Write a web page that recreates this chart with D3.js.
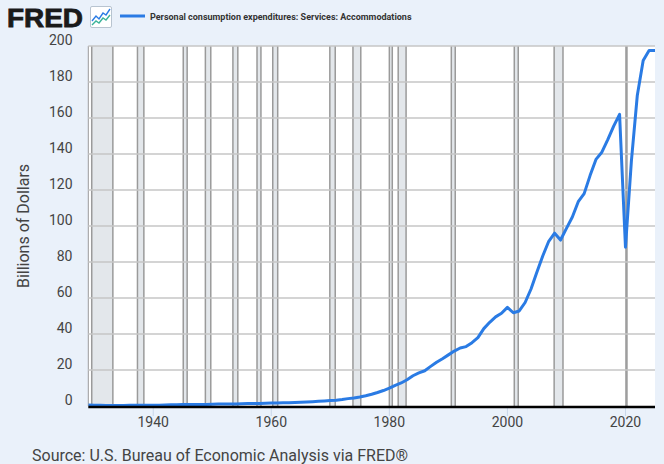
<!DOCTYPE html>
<html>
<head>
<meta charset="utf-8">
<script src="https://cdn.jsdelivr.net/npm/d3@7"></script>
<style>
  html, body { margin: 0; padding: 0; background: #eaf1fa; }
  svg { display: block; font-family: Roboto, "Noto Sans", sans-serif; }
</style>
</head>
<body>
<svg id="chart" width="664" height="464"></svg>
<script>
// ---- data ----
const years = d3.range(1929, 2026);
const values = [
  // 1929-1939
  0.50, 0.45, 0.38, 0.28, 0.26, 0.29, 0.31, 0.35, 0.38, 0.36, 0.38,
  // 1940-1949
  0.41, 0.47, 0.56, 0.65, 0.72, 0.78, 0.84, 0.86, 0.90, 0.90,
  // 1950-1959
  0.95, 1.05, 1.10, 1.15, 1.15, 1.25, 1.35, 1.40, 1.42, 1.52,
  // 1960-1969
  1.60, 1.65, 1.75, 1.85, 1.95, 2.10, 2.25, 2.40, 2.60, 2.80,
  // 1970-1979
  3.00, 3.20, 3.60, 4.10, 4.50, 5.00, 5.70, 6.50, 7.50, 8.60,
  // 1980-1989
  9.9, 11.5, 12.8, 14.6, 16.8, 18.4, 19.6, 22.0, 24.3, 26.3,
  // 1990-1999
  28.4, 30.5, 32.2, 33.0, 35.2, 38.0, 43.0, 46.5, 49.5, 51.5,
  // 2000-2009
  54.8, 51.8, 52.8, 57.5, 65.0, 74.5, 83.5, 91.5, 96.0, 92.2,
  // 2010-2019
  98.7, 105.0, 113.5, 118.0, 128.0, 137.0, 141.0, 148.0, 155.5, 162.0,
  // 2020-2025
  88.2, 136.0, 172.5, 192.0, 197.5, 197.5
];
const recessionStarts = ["1929-08","1937-05","1945-02","1948-11","1953-07","1957-08","1960-04","1969-12","1973-11","1980-01","1981-07","1990-07","2001-03","2007-12","2020-02"];
const recessionEnds   = ["1933-03","1938-06","1945-10","1949-10","1954-05","1958-04","1961-02","1970-11","1975-03","1980-07","1982-11","1991-03","2001-11","2009-06","2020-04"];
const xTickYears = [1940, 1960, 1980, 2000, 2020];
const yTicks = [0, 20, 40, 60, 80, 100, 120, 140, 160, 180, 200];
const seriesTitle = "Personal consumption expenditures: Services: Accommodations";
const yAxisTitle = "Billions of Dollars";
const sourceText = "Source: U.S. Bureau of Economic Analysis via FRED®";

// ---- layout ----
const svg = d3.select("#chart");
const plot = { left: 88.3, right: 655, top: 46, bottom: 406 };
const parseMonth = d3.timeParse("%Y-%m");

const x = d3.scaleTime()
  .domain([new Date(1929, 0, 1), new Date(2025, 0, 1)])
  .range([plot.left, plot.right]);
const y = d3.scaleLinear().domain([0, 200]).range([plot.bottom, plot.top]);

const data = years.map((yr, i) => ({ date: new Date(yr, 0, 1), v: values[i] }));

// plot background
svg.append("rect")
  .attr("x", plot.left).attr("y", plot.top)
  .attr("width", plot.right - plot.left).attr("height", plot.bottom - plot.top)
  .attr("fill", "#ffffff");

svg.append("clipPath").attr("id", "clip").append("rect")
  .attr("x", plot.left).attr("y", plot.top - 3)
  .attr("width", plot.right - plot.left).attr("height", plot.bottom - plot.top + 3);

// recessions
const rec = svg.append("g").attr("clip-path", "url(#clip)");
recessionStarts.forEach((s, i) => {
  const x0 = Math.max(plot.left, x(parseMonth(s)));
  const x1 = x(parseMonth(recessionEnds[i]));
  rec.append("rect")
    .attr("x", x0).attr("y", plot.top)
    .attr("width", Math.max(0, x1 - x0)).attr("height", plot.bottom - plot.top)
    .attr("fill", "#e3e7eb");
  [x0, x1].forEach(xx => rec.append("line")
    .attr("x1", xx).attr("x2", xx).attr("y1", plot.top).attr("y2", plot.bottom)
    .attr("stroke", "#9a9a9a").attr("stroke-width", 1.5));
});
// left plot edge
svg.append("line")
  .attr("x1", plot.left).attr("x2", plot.left).attr("y1", plot.top).attr("y2", plot.bottom)
  .attr("stroke", "#9a9a9a").attr("stroke-width", 1);

// horizontal gridlines
svg.append("g").selectAll("line").data(yTicks.filter(t => t > 0)).join("line")
  .attr("x1", plot.left).attr("x2", plot.right)
  .attr("y1", d => y(d)).attr("y2", d => y(d))
  .attr("stroke", "#c6c6c6").attr("stroke-width", 1.5);

// y labels
svg.append("g").selectAll("text").data(yTicks).join("text")
  .attr("x", 72.5).attr("y", d => y(d) - 1.5)
  .attr("text-anchor", "end")
  .attr("font-size", 14).attr("fill", "#444")
  .text(d => d);

// x ticks
svg.append("g").selectAll("line").data(xTickYears).join("line")
  .attr("x1", d => x(new Date(d, 0, 1))).attr("x2", d => x(new Date(d, 0, 1)))
  .attr("y1", plot.bottom).attr("y2", plot.bottom + 10)
  .attr("stroke", "#c8d6e8").attr("stroke-width", 1);
svg.append("g").selectAll("text").data(xTickYears).join("text")
  .attr("x", d => x(new Date(d, 0, 1))).attr("y", 427)
  .attr("text-anchor", "middle")
  .attr("font-size", 14).attr("fill", "#444")
  .text(d => d);

// series line
svg.append("path")
  .datum(data)
  .attr("clip-path", "url(#clip)")
  .attr("fill", "none")
  .attr("stroke", "#2a7be4")
  .attr("stroke-width", 3)
  .attr("stroke-linejoin", "round")
  .attr("d", d3.line().x(d => x(d.date)).y(d => y(d.v)));

// x axis line
svg.append("line")
  .attr("x1", plot.left).attr("x2", plot.right)
  .attr("y1", plot.bottom + 1).attr("y2", plot.bottom + 1)
  .attr("stroke", "#000").attr("stroke-width", 2.5);

// y axis title
svg.append("text")
  .attr("transform", `translate(29, ${(plot.top + plot.bottom) / 2}) rotate(-90)`)
  .attr("text-anchor", "middle")
  .attr("font-size", 16).attr("fill", "#444")
  .text(yAxisTitle);

// FRED logo
svg.append("text")
  .attr("x", 7).attr("y", 27)
  .attr("font-family", "'Liberation Sans', Arial, sans-serif")
  .attr("font-weight", 900).attr("font-size", 25)
  .attr("textLength", 76).attr("lengthAdjust", "spacingAndGlyphs")
  .attr("fill", "#1a1a1a")
  .attr("stroke", "#1a1a1a").attr("stroke-width", 0.8)
  .text("FRED");
const icon = svg.append("g").attr("transform", "translate(90,6)");
icon.append("rect").attr("x", 0.5).attr("y", 0.5).attr("width", 21).attr("height", 21)
  .attr("rx", 1.5).attr("fill", "#ffffff").attr("stroke", "#b8c4d0");
icon.append("path").attr("d", "M2,15 L6,10 L9,13 L13,7 L16,9 L20,3")
  .attr("fill", "none").attr("stroke", "#2a7be4").attr("stroke-width", 1.4);
icon.append("path").attr("d", "M2,19 L6,15 L9,17 L13,12 L16,14 L20,9")
  .attr("fill", "none").attr("stroke", "#3cb39a").attr("stroke-width", 1.4);

// legend
svg.append("line")
  .attr("x1", 120).attr("x2", 145).attr("y1", 16).attr("y2", 16)
  .attr("stroke", "#2a7be4").attr("stroke-width", 3);
svg.append("text")
  .attr("x", 150).attr("y", 19.5)
  .attr("font-size", 9).attr("font-weight", "bold").attr("fill", "#333")
  .text(seriesTitle);

// source
svg.append("text")
  .attr("x", 32).attr("y", 461)
  .attr("font-size", 16).attr("fill", "#444")
  .text(sourceText);
</script>
</body>
</html>
